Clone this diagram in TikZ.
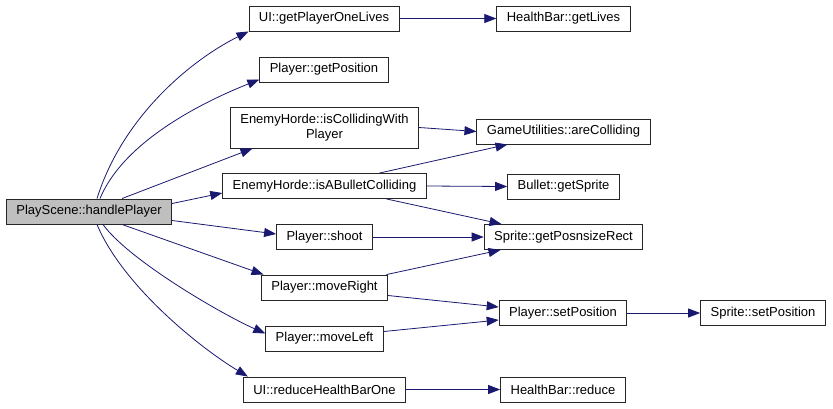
\documentclass[tikz,border=0pt]{standalone}
\usepackage{fontspec}
\setmainfont{Liberation Sans}
\usepackage{xcolor}
\usetikzlibrary{arrows.meta, positioning}
\definecolor{edgeblue}{HTML}{191970}
\definecolor{rootgray}{HTML}{BFBFBF}

\begin{document}
\begin{tikzpicture}[x=1pt, y=-1pt,
    every node/.style={font=\fontsize{13}{15}\selectfont},
    fn/.style={draw=black!85, line width=0.9pt, inner xsep=10pt, inner ysep=0pt, minimum height=25pt, align=center},
    call/.style={-{Triangle[length=12pt, width=9pt]}, edgeblue, line width=0.8pt}]
    \useasboundingbox (0,0) rectangle (833,408);

    % Caller
    \node[fn, fill=rootgray] (hp) at (89,211.5) {PlayScene::handlePlayer};

    % Direct callees
    \node[fn] (gpol) at (324,18.5) {UI::getPlayerOneLives};
    \node[fn] (gpos) at (324,69.5) {Player::getPosition};
    \node[fn, minimum height=41pt] (icwp) at (324.5,127.5) {EnemyHorde::isCollidingWith\\Player};
    \node[fn] (iabc) at (324.5,186) {EnemyHorde::isABulletColliding};
    \node[fn] (shoot) at (324.5,237) {Player::shoot};
    \node[fn] (mright) at (324.5,287.5) {Player::moveRight};
    \node[fn] (mleft) at (324.5,338.5) {Player::moveLeft};
    \node[fn] (rhbo) at (324.5,389.5) {UI::reduceHealthBarOne};

    % Second level
    \node[fn] (hbgl) at (563.5,18.5) {HealthBar::getLives};
    \node[fn] (gac) at (563.5,131.5) {GameUtilities::areColliding};
    \node[fn] (bgs) at (563.5,186.5) {Bullet::getSprite};
    \node[fn] (sgpr) at (563.5,237) {Sprite::getPosnsizeRect};
    \node[fn] (psp) at (563,313) {Player::setPosition};
    \node[fn] (hbr) at (563,389.5) {HealthBar::reduce};

    % Third level
    \node[fn] (ssp) at (763,313) {Sprite::setPosition};

    % Calls from the caller
    \draw[call] ([xshift=8pt]hp.north) .. controls +(25,-80) and +(-60,30) .. (gpol.south west);
    \draw[call] ([xshift=11pt]hp.north) .. controls +(25,-60) and +(-50,20) .. ([yshift=-10pt]gpos.west);
    \draw[call] ([xshift=33pt]hp.north) -- ([xshift=-72pt]icwp.south);
    \draw[call] ([yshift=8pt]hp.east) -- ([yshift=-7pt]iabc.west);
    \draw[call] ([yshift=-9pt]hp.east) -- ([yshift=3pt]shoot.west);
    \draw[call] ([xshift=33pt]hp.south) -- ([xshift=-61pt]mright.north);
    \draw[call] ([xshift=14pt]hp.south) .. controls +(25,35) and +(-45,-20) .. ([yshift=5pt]mleft.west);
    \draw[call] ([xshift=8pt]hp.south) .. controls +(25,60) and +(-50,-30) .. ([xshift=5pt]rhbo.north west);

    % Further calls
    \draw[call] (gpol.east) -- (hbgl.west);
    \draw[call] (icwp.east) -- (gac.west);
    \draw[call] ([xshift=55pt]iabc.north) -- ([xshift=-56pt]gac.south);
    \draw[call] (iabc.east) -- (bgs.west);
    \draw[call] ([xshift=62pt]iabc.south) -- ([xshift=-62pt]sgpr.north);
    \draw[call] (shoot.east) -- (sgpr.west);
    \draw[call] ([xshift=62pt]mright.north) -- ([xshift=-63pt]sgpr.south);
    \draw[call] ([yshift=-8pt]mright.east) -- ([yshift=6pt]psp.west);
    \draw[call] ([yshift=7pt]mleft.east) -- ([yshift=-7pt]psp.west);
    \draw[call] (psp.east) -- (ssp.west);
    \draw[call] (rhbo.east) -- (hbr.west);
\end{tikzpicture}
\end{document}
